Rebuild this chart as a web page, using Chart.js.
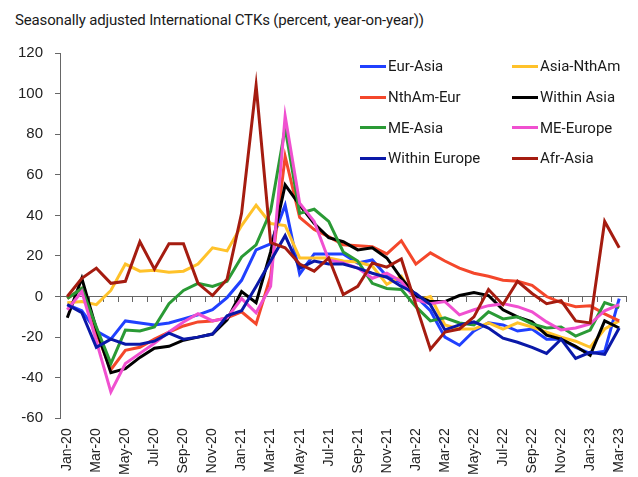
<!DOCTYPE html>
<html>
<head>
<meta charset="utf-8">
<script src="https://cdn.jsdelivr.net/npm/chart.js@4.4.0/dist/chart.umd.min.js"></script>
<style>
  body { margin: 0; width: 638px; height: 477px; background: #fff; position: relative; overflow: hidden; }
  #title { position: absolute; left: 15px; top: 11px; font: 15px Roboto, sans-serif; letter-spacing: -0.15px; color: #1a1a1a; white-space: nowrap; }
  #legend { position: absolute; left: 360px; top: 51px; display: grid; grid-template-columns: 152px 120px; }
  .item { display: flex; align-items: center; height: 30.7px; font: 15px Roboto, sans-serif; color: #1a1a1a; white-space: nowrap; }
  .swatch { width: 26px; height: 3px; margin-right: 2px; }
  canvas { position: absolute; left: 0; top: 0; }
</style>
</head>
<body>
<div id="title">Seasonally adjusted International CTKs (percent, year-on-year))</div>
<canvas id="ctkChart" width="638" height="477"></canvas>
<div id="legend"></div>
<script>
// monthly categories, Jan-20 .. Mar-23
const months = ['Jan-20', 'Feb-20', 'Mar-20', 'Apr-20', 'May-20', 'Jun-20', 'Jul-20', 'Aug-20', 'Sep-20', 'Oct-20', 'Nov-20', 'Dec-20',
    'Jan-21', 'Feb-21', 'Mar-21', 'Apr-21', 'May-21', 'Jun-21', 'Jul-21', 'Aug-21', 'Sep-21', 'Oct-21', 'Nov-21', 'Dec-21',
    'Jan-22', 'Feb-22', 'Mar-22', 'Apr-22', 'May-22', 'Jun-22', 'Jul-22', 'Aug-22', 'Sep-22', 'Oct-22', 'Nov-22', 'Dec-22',
    'Jan-23', 'Feb-23', 'Mar-23'];

const eurAsia = [-4, -7, -17, -21, -12, -13, -14, -13, -11, -9, -6.5, -0.5,
    8, 23, 26, 45, 11, 21, 21, 21, 16.5, 18, 10, 7,
    0, -7, -20, -24, -17, -13, -14, -17, -16, -21, -21, -25,
    -28, -27, -1];
const asiaNthAm = [-3, -2.5, -4, 3, 16, 12.5, 13, 12, 12.5, 16, 24, 22.5,
    35, 45, 36, 35, 19, 19, 19, 17.5, 17, 15, 6, 10,
    -2, 0, -14, -16, -16, -13, -16, -13, -15, -17.5, -20, -22,
    -25, -16, -12];
const nthAmEur = [-1, 4, -18, -36, -26.5, -25, -21, -17.5, -14.5, -12.5, -12, -10.5,
    -7.5, -13.5, 10, 69, 39, 33, 29.5, 25.5, 25, 24.5, 21, 27.5,
    16, 21.5, 17.5, 14, 11.5, 10, 8, 7.5, 5.5, 0, -3, -5,
    -4.5, -8.5, -12];
const withinAsia = [-10.5, 9, -16, -37.5, -35.5, -30, -25.5, -24.5, -21.5, -20, -18.5, -11.5,
    2.5, -3, 22, 55, 45, 36, 29, 27, 23, 24, 19, 9,
    0.5, -2.5, -2.5, 0.5, 2, 0.5, -6.5, -10, -12.5, -19, -21, -24.5,
    -29, -12, -15.5];
const meAsia = [-1, 4, -15, -33, -16.5, -17, -15, -3.5, 3, 6.5, 5, 7.5,
    19.5, 25.5, 42, 83, 41, 43, 37, 22, 17.5, 6.5, 4, 3.5,
    -5, -12, -10.5, -13, -14, -7.5, -11, -10, -13.5, -15.5, -15, -19.5,
    -16.5, -3, -5.5];
const meEurope = [-6.5, 2.5, -22, -47, -33, -28, -23, -17.5, -12.5, -8.5, -12, -10.5,
    -1, -8, 5, 89, 46, 37, 18, 16.5, 14, 9, 11.5, 7.5,
    -1.5, -3.5, -2.5, -9, -6.5, -4.5, -3.5, -5, -7.5, -12.5, -16.5, -15.5,
    -13.5, -7, -4];
const withinEurope = [-4, -8, -25, -21, -23.5, -23.5, -22, -18, -21, -20, -18.5, -9.5,
    -7, 5, 17.5, 30, 14, 17.5, 16, 16, 14, 11.5, 9.5, 5,
    1.5, -4, -16.5, -14, -12.5, -15.5, -20.5, -22.5, -25, -28, -21, -30.5,
    -27.5, -28.5, -15.5];
const afrAsia = [0, 9, 14, 6.5, 7.5, 27, 13.5, 26, 26, 6.5, 0.5, 8.5,
    41, 104, 26.5, 24, 16, 12.5, 19, 1, 5, 16.5, 14.5, 18.5,
    -4, -26, -17.5, -16, -10, 3.5, -4, 7.5, 1.5, -3.5, -2, -12,
    -13, 37, 24];

const seriesNames = ['Eur-Asia', 'Asia-NthAm', 'NthAm-Eur', 'Within Asia', 'ME-Asia', 'ME-Europe', 'Within Europe', 'Afr-Asia'];
const seriesData = [eurAsia, asiaNthAm, nthAmEur, withinAsia, meAsia, meEurope, withinEurope, afrAsia];
const seriesColors = ['#2040ff', '#ffc22a', '#f4472b', '#000000', '#2a9a35', '#f050d0', '#0a18a8', '#a51c10'];

const yFont = { family: "'Liberation Sans', Arial, sans-serif", size: 15 };
const xFont = { family: "'Liberation Sans', Arial, sans-serif", size: 14 };

const datasets = seriesNames.map((name, i) => ({
    label: name,
    data: seriesData[i],
    borderColor: seriesColors[i],
    backgroundColor: seriesColors[i],
    borderWidth: 3,
    pointRadius: 0,
    tension: 0,
    fill: false,
    order: seriesNames.length - i // later series on top, like the original
}));

const ctx = document.getElementById('ctkChart').getContext('2d');
const chart = new Chart(ctx, {
    type: 'line',
    data: { labels: months, datasets: datasets },
    options: {
        responsive: false,
        animation: false,
        layout: { padding: { left: 6, top: 53, right: 0, bottom: 0 } },
        plugins: { legend: { display: false }, tooltip: { enabled: false } },
        scales: {
            x: {
                offset: true,
                grid: { display: false },
                border: { display: false },
                ticks: {
                    autoSkip: false, minRotation: 90, maxRotation: 90, padding: 2,
                    font: xFont, color: '#222',
                    callback: (v, i) => i % 2 === 0 ? months[i] : ''
                }
            },
            // axis line with tick marks crossing at zero
            xZero: {
                type: 'category',
                labels: months,
                position: { y: 0 },
                offset: true,
                grid: { offset: true, drawOnChartArea: false, tickLength: 5, color: '#666' },
                border: { color: '#666' },
                ticks: { display: false }
            },
            y: {
                min: -60, max: 120,
                ticks: { stepSize: 20, padding: 12, font: yFont, color: '#222' },
                grid: { drawOnChartArea: false, tickLength: 5, color: '#666' },
                border: { color: '#666' }
            }
        }
    }
});

// legend, two columns
const legend = document.getElementById('legend');
chart.data.datasets.forEach(ds => {
    const item = document.createElement('div');
    item.className = 'item';
    item.innerHTML = '<span class="swatch" style="background:' + ds.borderColor + '"></span>' + ds.label;
    legend.appendChild(item);
});
</script>
</body>
</html>
